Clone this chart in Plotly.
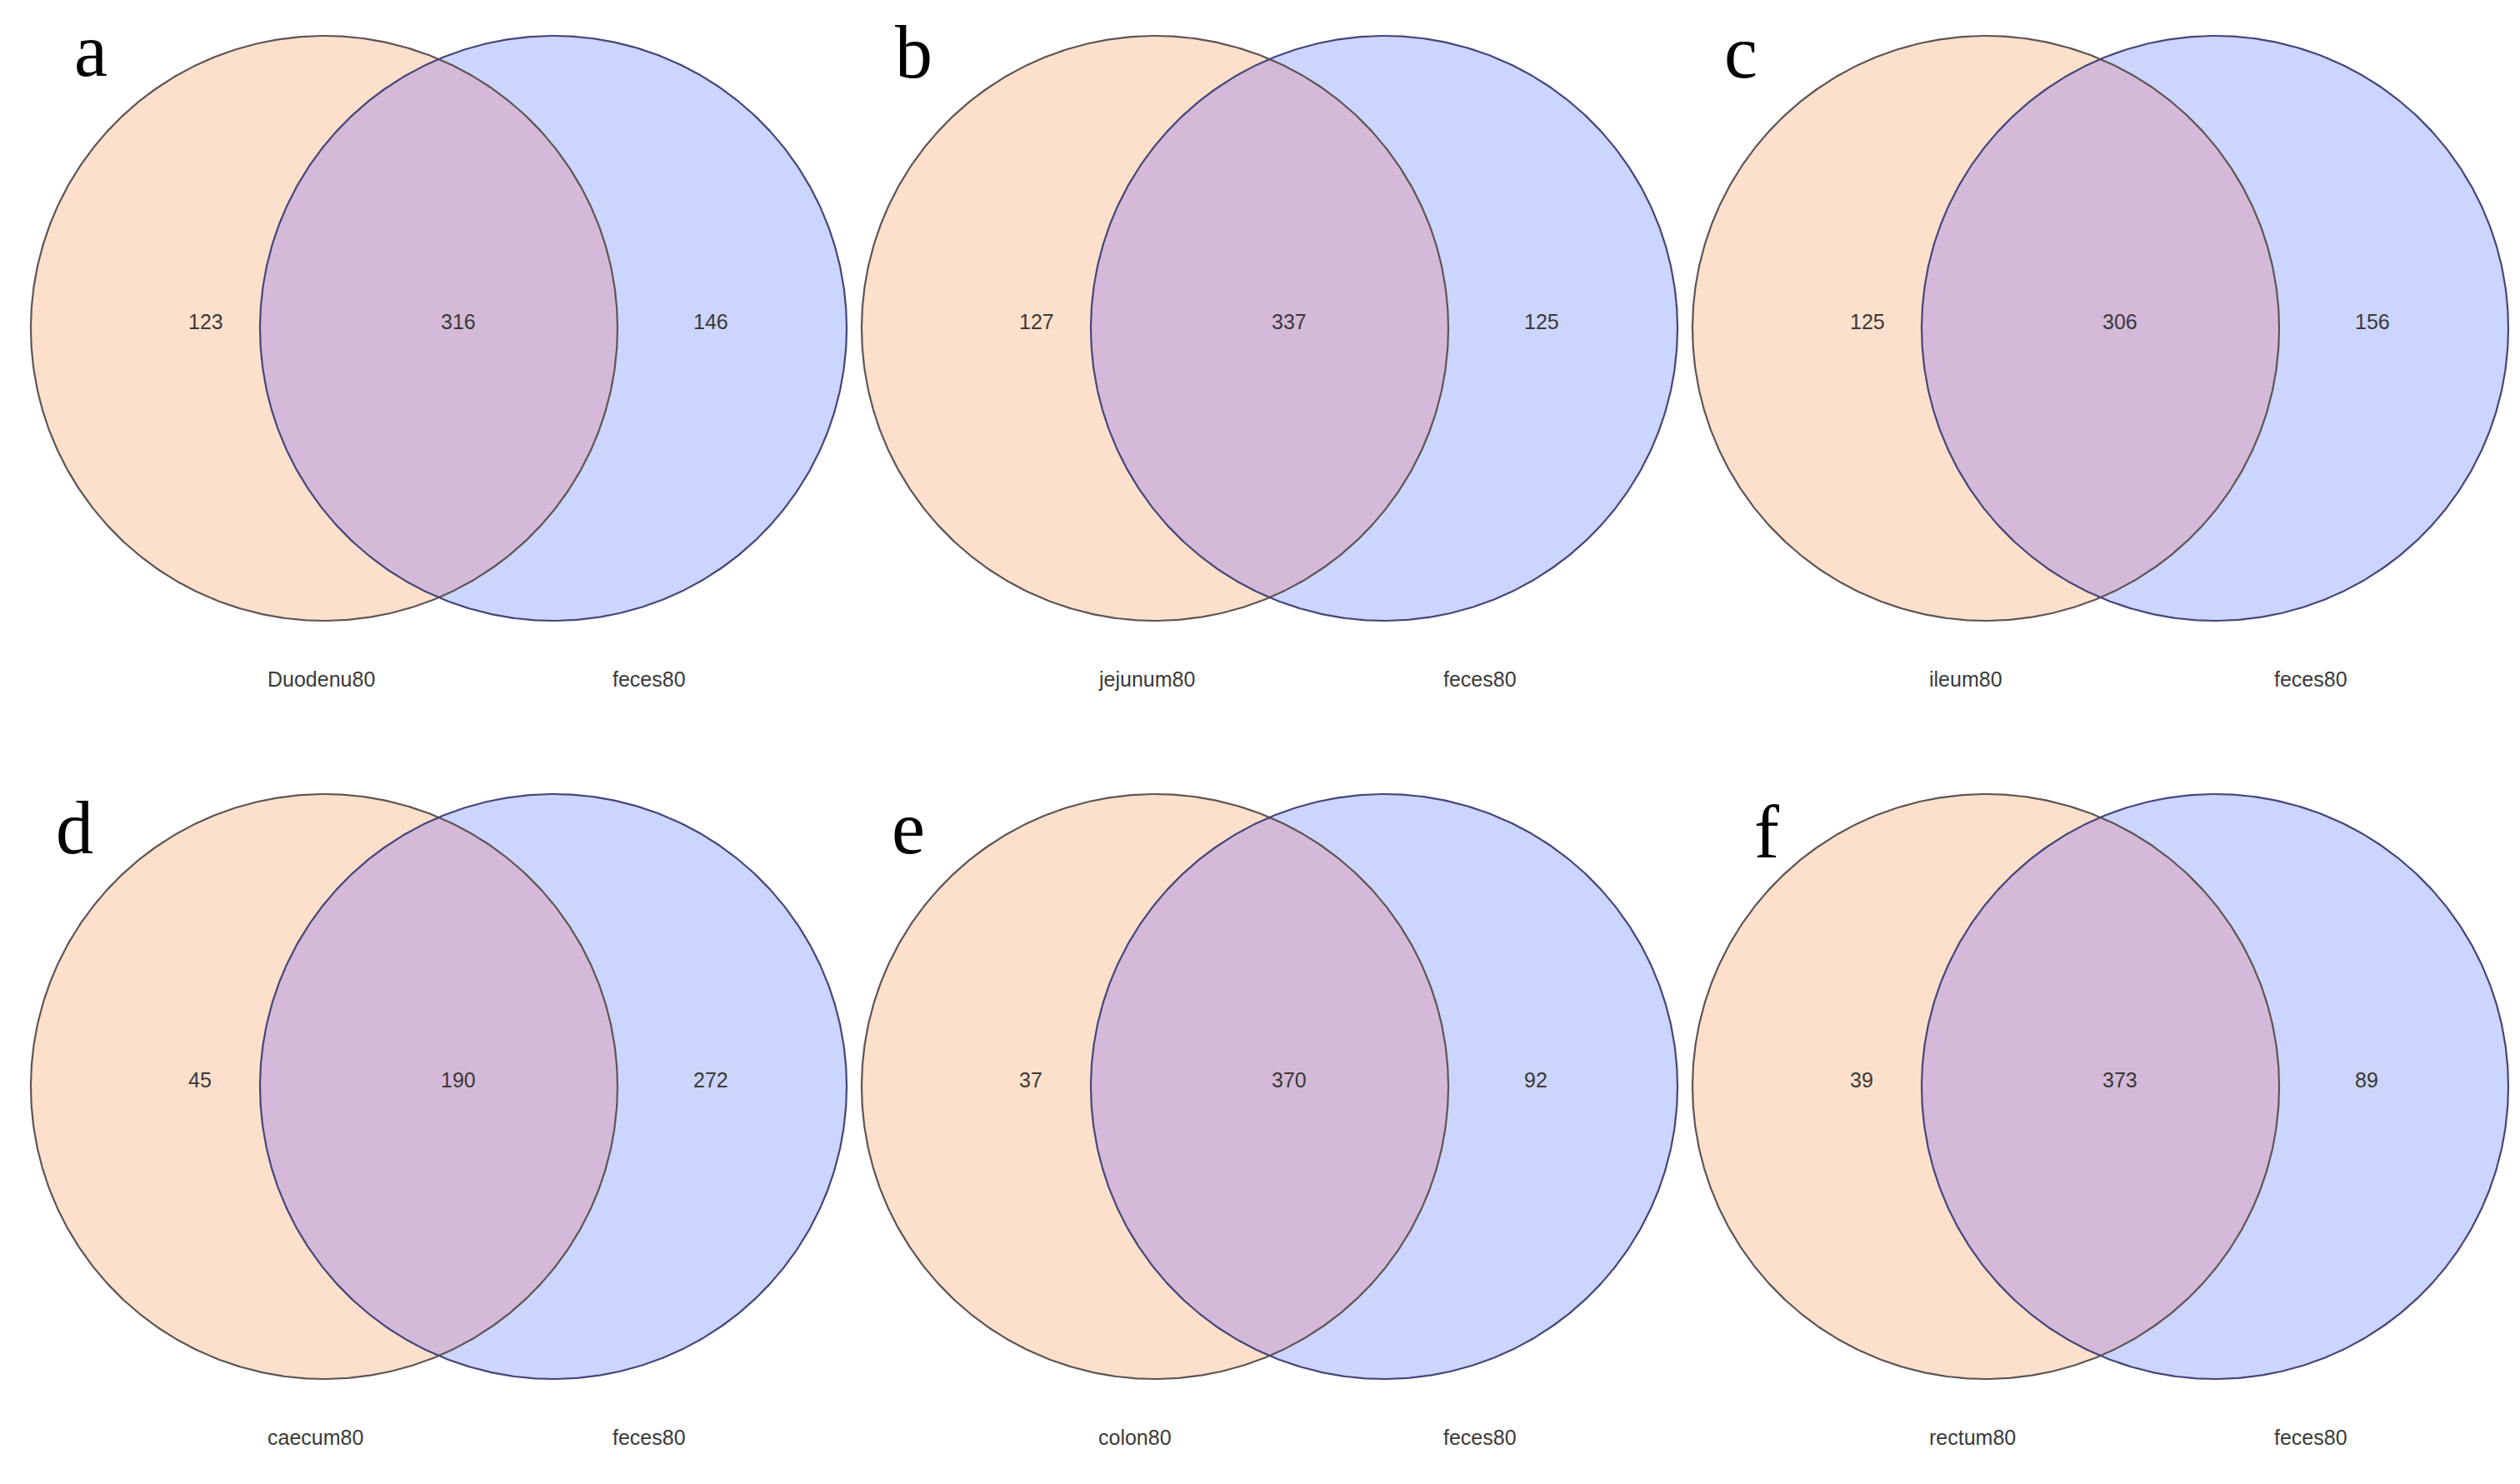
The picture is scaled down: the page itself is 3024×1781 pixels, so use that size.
import numpy as np
import plotly.graph_objects as go

# Venn counts
panel_letters = ["a", "b", "c", "d", "e", "f"]
left_sets = ["Duodenu80", "jejunum80", "ileum80", "caecum80", "colon80", "rectum80"]
right_sets = ["feces80", "feces80", "feces80", "feces80", "feces80", "feces80"]
left_only = [123, 127, 125, 45, 37, 39]
shared = [316, 337, 306, 190, 370, 373]
right_only = [146, 125, 156, 272, 92, 89]

# layout (pixels of the 3024x1781 page)
W, H = 3024, 1781
col_x = [0, 997, 1994]
row_cy = [386, 1296]
cx_left, cx_right = 381, 656
rx, ry = 352, 351
num_x = [216, 519, 822]        # left edges of the three counts
lab_x = [311, 725]             # left edges of the set names
letter_pos = [(101, 52), (1088, 54), (2081, 54), (81, 985), (1082, 985), (2112, 990)]

peach = "#FDE0CB"
blue = "#CBD5FD"
lens = "#D4BAD8"

fig = go.Figure()
t = np.linspace(0, 2 * np.pi, 721)

for i in range(6):
    ox = col_x[i % 3]
    cy = row_cy[i // 3]
    cl = ox + cx_left
    cr = ox + cx_right
    xm = (cl + cr) / 2

    # filled circles
    for c, col in [(cl, peach), (cr, blue)]:
        fig.add_trace(go.Scatter(x=c + rx * np.cos(t), y=cy + ry * np.sin(t),
                                 mode="lines", fill="toself", fillcolor=col,
                                 line=dict(width=0), hoverinfo="skip", showlegend=False))

    # overlap lens
    t0 = np.arccos((xm - cl) / rx)
    a1 = np.linspace(-t0, t0, 200)
    a2 = np.linspace(np.pi - t0, np.pi + t0, 200)
    lx = np.concatenate([cl + rx * np.cos(a1), cr + rx * np.cos(a2)])
    ly = np.concatenate([cy + ry * np.sin(a1), cy + ry * np.sin(a2)])
    fig.add_trace(go.Scatter(x=lx, y=ly, mode="lines", fill="toself", fillcolor=lens,
                             line=dict(width=0), hoverinfo="skip", showlegend=False))

    # outlines
    for c, lc in [(cl, "#5e5454"), (cr, "#45457a")]:
        fig.add_trace(go.Scatter(x=c + rx * np.cos(t), y=cy + ry * np.sin(t),
                                 mode="lines", line=dict(color=lc, width=2.2),
                                 hoverinfo="skip", showlegend=False))

    # counts
    counts = [left_only[i], shared[i], right_only[i]]
    for nx, val in zip(num_x, counts):
        fig.add_annotation(x=ox + nx, y=cy - 8, text=str(val), showarrow=False,
                           xanchor="left", yanchor="middle",
                           font=dict(family="Liberation Sans", size=25, color="#3a3838"))

    # set names
    for lx0, name in zip(lab_x, [left_sets[i], right_sets[i]]):
        fig.add_annotation(x=ox + lx0, y=cy + 421, text=name, showarrow=False,
                           xanchor="left", yanchor="middle",
                           font=dict(family="Liberation Sans", size=25, color="#3a3a3a"))

    # panel letter
    px_, py_ = letter_pos[i]
    fig.add_annotation(x=px_, y=py_, text=panel_letters[i], showarrow=False,
                       xanchor="center", yanchor="middle",
                       font=dict(family="Liberation Serif", size=90, color="#000000"))

fig.update_xaxes(range=[0, W], visible=False, fixedrange=True)
fig.update_yaxes(range=[H, 0], visible=False, fixedrange=True)
fig.update_layout(width=W, height=H, margin=dict(l=0, r=0, t=0, b=0),
                  paper_bgcolor="white", plot_bgcolor="white", showlegend=False)

fig.write_html("out.html", config={"displayModeBar": False})
